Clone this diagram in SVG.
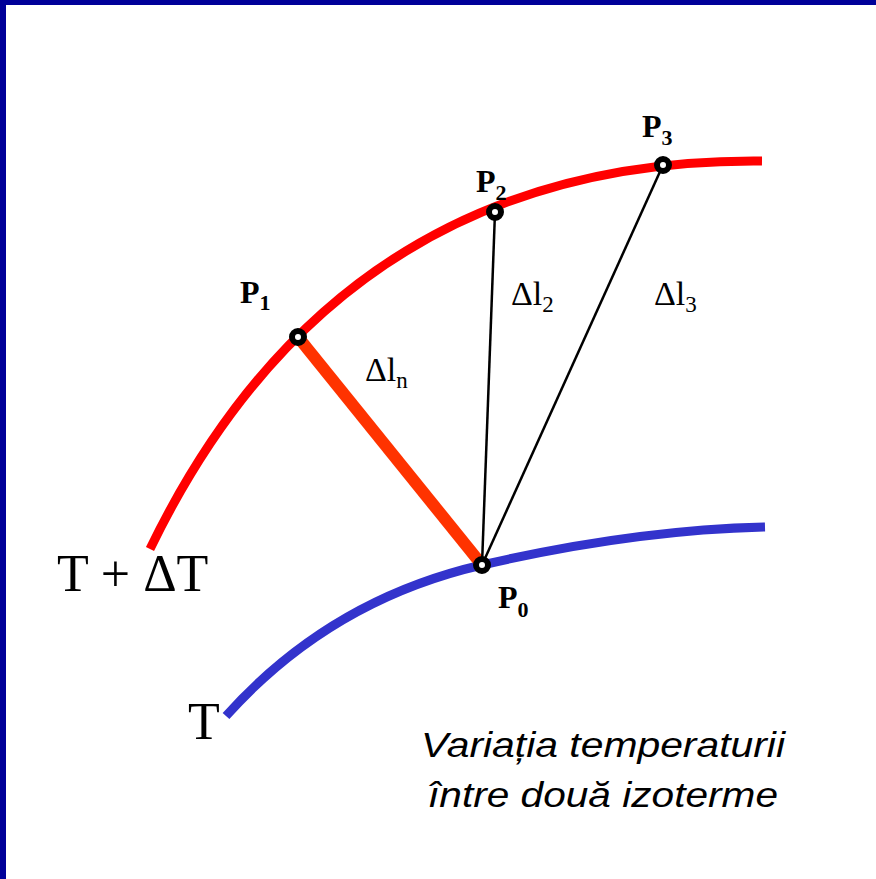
<svg xmlns="http://www.w3.org/2000/svg" width="876" height="879" viewBox="0 0 876 879">
<style>
.pl{font-family:"Liberation Serif","Times New Roman",serif;font-weight:bold;font-size:32px;fill:#000}
.ps{font-size:22px}
.dl{font-family:"Liberation Serif","Times New Roman",serif;font-size:34px;fill:#000}
.ds{font-size:23px}
.big{font-family:"Liberation Serif","Times New Roman",serif;font-size:52px;fill:#000}
.cap{font-family:"Liberation Sans",Arial,sans-serif;font-style:italic;font-size:35px;fill:#000}
.pt{fill:#fff;stroke:#000;stroke-width:6}
</style>
<rect x="0" y="0" width="876" height="879" fill="#fff"/>
<rect x="0" y="0" width="876" height="5" fill="#000099"/>
<rect x="0" y="0" width="6" height="879" fill="#000099"/>
<g id="isotherm-T-dT">
<path d="M150,549 Q340,157 762,161" fill="none" stroke="#ff0000" stroke-width="9"/>
<text class="big" x="57" y="591">T + ΔT</text>
</g>
<g id="isotherm-T">
<path d="M226,716 Q330,600 482,565 Q634,530 765,527" fill="none" stroke="#3333cc" stroke-width="9"/>
<text class="big" x="188" y="739">T</text>
</g>
<g id="connectors">
<line x1="298" y1="337" x2="482" y2="565" stroke="#ff3300" stroke-width="12"/>
<line x1="495" y1="212" x2="482" y2="565" stroke="#000" stroke-width="2.5"/>
<line x1="663" y1="165" x2="482" y2="565" stroke="#000" stroke-width="2.5"/>
<text class="dl" x="365" y="381">Δl<tspan class="ds" dy="7">n</tspan></text>
<text class="dl" x="511" y="305">Δl<tspan class="ds" dy="7">2</tspan></text>
<text class="dl" x="654" y="305">Δl<tspan class="ds" dy="7">3</tspan></text>
</g>
<g id="P0">
<circle class="pt" cx="482" cy="565" r="6"/>
<text class="pl" x="498" y="608">P<tspan class="ps" dy="9">0</tspan></text>
</g>
<g id="P1">
<circle class="pt" cx="298" cy="337" r="6"/>
<text class="pl" x="240" y="303">P<tspan class="ps" dy="7">1</tspan></text>
</g>
<g id="P2">
<circle class="pt" cx="495" cy="212" r="6"/>
<text class="pl" x="476" y="192">P<tspan class="ps" dy="8">2</tspan></text>
</g>
<g id="P3">
<circle class="pt" cx="663" cy="165" r="6"/>
<text class="pl" x="642" y="137">P<tspan class="ps" dy="8">3</tspan></text>
</g>
<g id="caption">
<text class="cap" x="421" y="757" textLength="364" lengthAdjust="spacingAndGlyphs">Variația temperaturii</text>
<text class="cap" x="428" y="807" textLength="350" lengthAdjust="spacingAndGlyphs">între două izoterme</text>
</g>
</svg>
